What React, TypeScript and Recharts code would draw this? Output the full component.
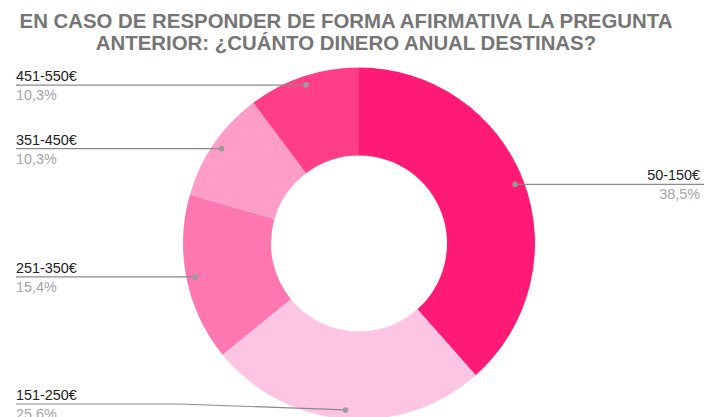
import { PieChart, Pie, Cell } from "recharts";

const RANGES = ["50-150€", "151-250€", "251-350€", "351-450€", "451-550€"];
const COUNTS = [15, 10, 6, 4, 4];
const COLORS = ["#ff1a76", "#fdc4e3", "#ff77b0", "#ff9dc8", "#ff3e87"];
const TITLE_LINES = [
  "EN CASO DE RESPONDER DE FORMA AFIRMATIVA LA PREGUNTA",
  "ANTERIOR: ¿CUÁNTO DINERO ANUAL DESTINAS?",
];

const W = 704;
const H = 417;
const RAD = Math.PI / 180;
const FONT = "'Liberation Sans', Arial, sans-serif";

const data = RANGES.map((name, i) => ({ name, value: COUNTS[i] }));

function renderLabel(props: any) {
  const { cx, cy, midAngle, outerRadius, name, percent } = props;
  const r = outerRadius - 9;
  const dx = cx + r * Math.cos(-midAngle * RAD);
  const dy = cy + r * Math.sin(-midAngle * RAD);
  const right = Math.cos(-midAngle * RAD) >= 0;
  // labels near the bottom edge are pulled up, with a bent leader
  const ly = Math.min(dy, H - 13);
  const pct = (percent * 100).toFixed(1).replace(".", ",") + "%";

  const x0 = right ? W : 16;
  const bend = right ? dx : Math.min(dx, 180);
  const tx = right ? W - 4 : 16;
  const anchor = right ? "end" : "start";

  return (
    <g>
      <polyline
        points={`${x0},${ly} ${bend},${ly} ${dx},${dy}`}
        fill="none"
        stroke="#8a8a8a"
        strokeWidth={1.2}
      />
      <circle cx={dx} cy={dy} r={2.8} fill="#9a9a9a" />
      <text x={tx} y={ly - 4} textAnchor={anchor} fontSize={14.4} fill="#222" fontFamily={FONT}>
        {name}
      </text>
      <text x={tx} y={ly + 15} textAnchor={anchor} fontSize={14.4} fill="#a6a6a6" fontFamily={FONT}>
        {pct}
      </text>
    </g>
  );
}

export default function App() {
  return (
    <div style={{ position: "absolute", left: 0, top: 0, width: W, height: H, background: "#fff" }}>
      <div
        style={{
          position: "absolute",
          left: -6,
          top: 11,
          width: W,
          textAlign: "center",
          fontFamily: FONT,
          fontWeight: "bold",
          fontSize: 20.4,
          lineHeight: "21.5px",
          color: "#757575",
        }}
      >
        {TITLE_LINES.map((t) => (
          <div key={t}>{t}</div>
        ))}
      </div>
      <PieChart width={W} height={H} margin={{ top: 0, right: 0, bottom: 0, left: 0 }}>
        <Pie
          data={data}
          dataKey="value"
          nameKey="name"
          cx={359}
          cy={243.5}
          innerRadius={88}
          outerRadius={176}
          startAngle={90}
          endAngle={-270}
          stroke="none"
          label={renderLabel}
          labelLine={false}
          isAnimationActive={false}
        >
          {data.map((d, i) => (
            <Cell key={d.name} fill={COLORS[i]} />
          ))}
        </Pie>
      </PieChart>
    </div>
  );
}
